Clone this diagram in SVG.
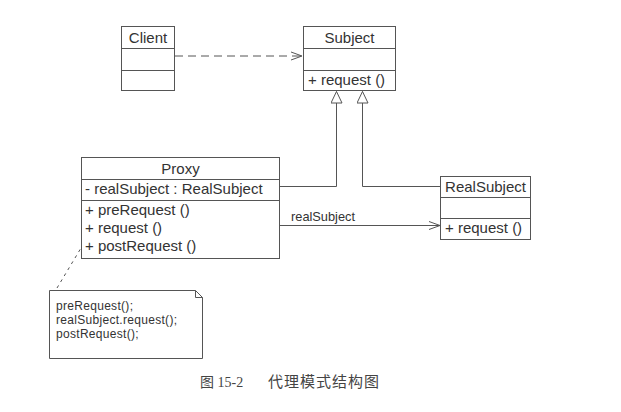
<svg xmlns="http://www.w3.org/2000/svg" width="621" height="412" viewBox="0 0 621 412">
<style>
.box{fill:#fff;stroke:#555;stroke-width:1}
.ln{fill:none;stroke:#555;stroke-width:1}
.t{font-family:"Liberation Sans",Arial,sans-serif;font-size:15px;fill:#333}
.s{font-family:"Liberation Sans",Arial,sans-serif;font-size:12.8px;fill:#333}
.n{font-family:"Liberation Sans",Arial,sans-serif;font-size:12px;fill:#333;letter-spacing:0.3px}
.cap{font-family:"Liberation Serif","Noto Sans CJK SC",serif;fill:#444}
</style>
<defs>
<marker id="open" markerWidth="12" markerHeight="10" refX="11" refY="5" orient="auto" markerUnits="userSpaceOnUse">
<path d="M0,1 L11,5 L0,9" fill="none" stroke="#555" stroke-width="1"/>
</marker>
<marker id="tri" markerWidth="14" markerHeight="14" refX="12" refY="6" orient="auto" markerUnits="userSpaceOnUse">
<path d="M0.5,0.5 L12,6 L0.5,11.5 Z" fill="#fff" stroke="#555" stroke-width="1"/>
</marker>
</defs>
<rect width="621" height="412" fill="#fff"/>
<g id="connectors">
<path class="ln" d="M175,56 H302" stroke-dasharray="8,5" marker-end="url(#open)"/>
<path class="ln" d="M279.5,186.5 H336.5 V91.5" marker-end="url(#tri)"/>
<path class="ln" d="M440.5,186.5 H362.5 V91.5" marker-end="url(#tri)"/>
<path class="ln" d="M279.5,225.5 H440" marker-end="url(#open)"/>
<text class="s" x="291" y="221">realSubject</text>
<path class="ln" d="M57,288 L84,243" stroke-dasharray="3,4"/>
</g>
<g id="client">
<rect class="box" x="121.5" y="26.5" width="53" height="64"/>
<path class="ln" d="M121.5,48.5 H174.5 M121.5,70.5 H174.5"/>
<text class="t" x="148" y="43" text-anchor="middle">Client</text>
</g>
<g id="subject">
<rect class="box" x="303.5" y="26.5" width="92" height="64"/>
<path class="ln" d="M303.5,48.5 H395.5 M303.5,70.5 H395.5"/>
<text class="t" x="349.5" y="43" text-anchor="middle">Subject</text>
<text class="t" x="308" y="85">+ request ()</text>
</g>
<g id="proxy">
<rect class="box" x="81.5" y="157.5" width="198" height="101"/>
<path class="ln" d="M81.5,179.5 H279.5 M81.5,200.5 H279.5"/>
<text class="t" x="180.5" y="174" text-anchor="middle">Proxy</text>
<text class="t" x="85" y="194">- realSubject : RealSubject</text>
<text class="t" x="85" y="215">+ preRequest ()</text>
<text class="t" x="85" y="233">+ request ()</text>
<text class="t" x="85" y="251">+ postRequest ()</text>
</g>
<g id="realsubject">
<rect class="box" x="440.5" y="176.5" width="90" height="63"/>
<path class="ln" d="M440.5,197.5 H530.5 M440.5,218.5 H530.5"/>
<text class="t" x="485.5" y="191.5" text-anchor="middle">RealSubject</text>
<text class="t" x="445" y="233">+ request ()</text>
</g>
<g id="note">
<path class="box" d="M49.5,290.5 H195.5 L202.5,297.5 V358.5 H49.5 Z"/>
<path class="ln" d="M195.5,290.5 V297.5 H202.5"/>
<text class="n" x="56" y="310">preRequest();</text>
<text class="n" x="56" y="324">realSubject.request();</text>
<text class="n" x="56" y="338">postRequest();</text>
</g>
<text class="cap" x="200" y="387" font-size="14">图 15-2</text>
<text class="cap" x="268" y="387" font-size="15" letter-spacing="1">代理模式结构图</text>
</svg>
